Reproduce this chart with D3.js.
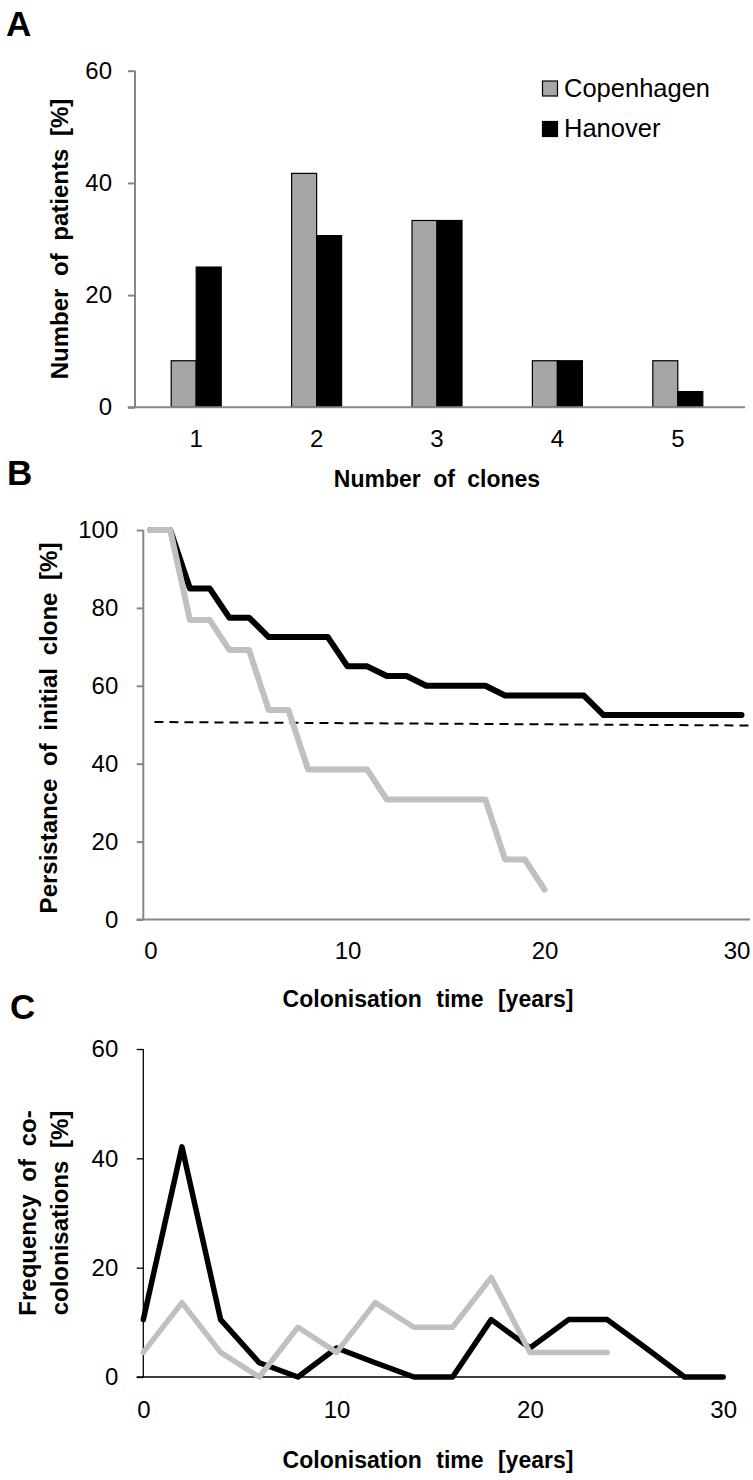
<!DOCTYPE html>
<html><head><meta charset="utf-8">
<script src="https://cdn.jsdelivr.net/npm/d3@7"></script>
<style>
body{margin:0;background:#fff}
svg text{font-family:"Liberation Sans",Arial,sans-serif;fill:#000}
</style>
</head><body>
<svg id="chart" width="753" height="1480"></svg>
<script>
// ---------- data ----------
const cloneCategories = ["1","2","3","4","5"];
const seriesNames = ["Copenhagen","Hanover"];
const copenhagenClones = [8.3, 41.7, 33.3, 8.3, 8.3];
const hanoverClones = [25.0, 30.6, 33.3, 8.3, 2.8];
const ticksA = [0, 20, 40, 60];

const hanoverYears = [0,1,2,3,4,5,6,7,8,9,10,11,12,13,14,15,16,17,18,19,20,21,22,23,24,25,26,27,28,29,30];
const hanoverPersist = [100,100,85,85,77.5,77.5,72.5,72.5,72.5,72.5,65,65,62.5,62.5,60,60,60,60,57.5,57.5,57.5,57.5,57.5,52.5,52.5,52.5,52.5,52.5,52.5,52.5,52.5];
const copenhagenYears = [0,1,2,3,4,5,6,7,8,9,10,11,12,13,14,15,16,17,18,19,20];
const copenhagenPersist = [100,100,76.9,76.9,69.2,69.2,53.8,53.8,38.5,38.5,38.5,38.5,30.8,30.8,30.8,30.8,30.8,30.8,15.4,15.4,7.7];
const referenceYears = [0.2, 30.6];
const referenceValues = [50.7, 49.8];
const ticksBy = [0, 20, 40, 60, 80, 100];
const ticksBx = [0, 10, 20, 30];

const hanoverCoYears = [0,2,4,6,8,10,12,14,16,18,20,22,24,26,28,30];
const hanoverCo = [10.5,42.1,10.5,2.6,0,5.3,2.6,0,0,10.5,5.3,10.5,10.5,5.3,0,0];
const copenhagenCoYears = [0,2,4,6,8,10,12,14,16,18,20,22,24];
const copenhagenCo = [4.5,13.6,4.5,0,9.1,4.5,13.6,9.1,9.1,18.2,4.5,4.5,4.5];
const ticksCy = [0, 20, 40, 60];
const ticksCx = [0, 10, 20, 30];

// ---------- setup ----------
const svg = d3.select("#chart");
const FONT = "24px";
const GRAY_AXIS = "#868686";
const BAR_GRAY = "#a6a6a6";
const LINE_GRAY = "#c0c0c0";

function panelLabel(t, x, y){
  svg.append("text").attr("x",x).attr("y",y).attr("font-size","35px")
     .attr("font-weight","bold").text(t);
}
function styleAxis(g, color, width){
  g.select(".domain").remove();
  g.selectAll(".tick line").attr("stroke", color).attr("stroke-width", width);
  g.selectAll(".tick text").attr("font-size", FONT).attr("fill","#000")
    .attr("font-family",'"Liberation Sans",Arial,sans-serif');
}

// ================= Panel A =================
panelLabel("A", 6, 36);
const xA = d3.scaleBand().domain(cloneCategories).range([136, 738]);
const yA = d3.scaleLinear().domain([0, 60]).range([407.3, 70.7]);
const barW = 25;

const gAy = svg.append("g").attr("transform","translate(135,0)")
  .call(d3.axisLeft(yA).tickValues(ticksA).tickSize(7).tickPadding(16).tickFormat(d3.format("d")));
styleAxis(gAy, GRAY_AXIS, 2);

const rowsA = cloneCategories.map((c,i)=>({c, cop: copenhagenClones[i], han: hanoverClones[i]}));
svg.append("g").selectAll("rect.cop").data(rowsA).join("rect")
  .attr("x", d => xA(d.c) + xA.bandwidth()/2 - barW)
  .attr("y", d => yA(d.cop)).attr("width", barW)
  .attr("height", d => yA(0) - yA(d.cop))
  .attr("fill", BAR_GRAY).attr("stroke","#000").attr("stroke-width",1.2);
svg.append("g").selectAll("rect.han").data(rowsA).join("rect")
  .attr("x", d => xA(d.c) + xA.bandwidth()/2)
  .attr("y", d => yA(d.han)).attr("width", barW)
  .attr("height", d => yA(0) - yA(d.han))
  .attr("fill", "#000").attr("stroke","#000").attr("stroke-width",1.2);

// axis lines A
svg.append("line").attr("x1",135).attr("x2",135).attr("y1",yA(60)).attr("y2",yA(0))
  .attr("stroke",GRAY_AXIS).attr("stroke-width",2);
svg.append("line").attr("x1",127.7).attr("x2",745).attr("y1",yA(0)).attr("y2",yA(0))
  .attr("stroke",GRAY_AXIS).attr("stroke-width",2);

const gAx = svg.append("g").attr("transform",`translate(0,${yA(0)})`)
  .call(d3.axisBottom(xA).tickSize(0).tickPadding(23));
styleAxis(gAx, "none", 0);

// legend
const legendA = svg.append("g");
[BAR_GRAY, "#000"].forEach((col,i)=>{
  legendA.append("rect").attr("x",542.5).attr("y",81 + i*40.5).attr("width",15).attr("height",15)
    .attr("fill",col).attr("stroke","#000").attr("stroke-width",1.2);
  legendA.append("text").attr("x",564).attr("y",96.5 + i*40.3).attr("font-size","25.5px")
    .text(seriesNames[i]);
});

svg.append("text").attr("transform","translate(68.3,239) rotate(-90)")
  .attr("text-anchor","middle").attr("font-size","24px").attr("font-weight","bold")
  .attr("word-spacing","6px").text("Number of patients [%]");
svg.append("text").attr("x",437).attr("y",487).attr("text-anchor","middle")
  .attr("font-size","23px").attr("font-weight","bold").attr("word-spacing","6px")
  .text("Number of clones");

// ================= Panel B =================
panelLabel("B", 7, 485);
const xB = d3.scaleLinear().domain([0, 30]).range([150.5, 741.5]);
const yB = d3.scaleLinear().domain([0, 100]).range([919.5, 530]);

const gBy = svg.append("g").attr("transform","translate(143.3,0)")
  .call(d3.axisLeft(yB).tickValues(ticksBy).tickSize(6.6).tickPadding(18.4).tickFormat(d3.format("d")));
styleAxis(gBy, GRAY_AXIS, 2);
svg.append("line").attr("x1",143.3).attr("x2",143.3).attr("y1",yB(100)).attr("y2",yB(0))
  .attr("stroke",GRAY_AXIS).attr("stroke-width",2);
svg.append("line").attr("x1",136.7).attr("x2",750).attr("y1",yB(0)).attr("y2",yB(0))
  .attr("stroke",GRAY_AXIS).attr("stroke-width",2);
const gBx = svg.append("g").attr("transform",`translate(0,${yB(0)})`)
  .call(d3.axisBottom(xB).tickValues(ticksBx).tickSize(0).tickPadding(22.5).tickFormat(d3.format("d")));
styleAxis(gBx, "none", 0);
gBx.selectAll(".tick text").filter(d => d === 30).attr("dx", "-5px");

const lineB = d3.line().x(d=>xB(d[0])).y(d=>yB(d[1]));
svg.append("path").datum(referenceYears.map((x,i)=>[x, referenceValues[i]]))
  .attr("d", lineB).attr("fill","none").attr("stroke","#000").attr("stroke-width",2)
  .attr("stroke-dasharray","9,6");
svg.append("path").datum(hanoverYears.map((x,i)=>[x, hanoverPersist[i]]))
  .attr("d", lineB).attr("fill","none").attr("stroke","#000").attr("stroke-width",6)
  .attr("stroke-linejoin","round").attr("stroke-linecap","round");
svg.append("path").datum(copenhagenYears.map((x,i)=>[x, copenhagenPersist[i]]))
  .attr("d", lineB).attr("fill","none").attr("stroke",LINE_GRAY).attr("stroke-width",6)
  .attr("stroke-linejoin","round").attr("stroke-linecap","round");

svg.append("text").attr("transform","translate(56.7,728) rotate(-90)")
  .attr("text-anchor","middle").attr("font-size","24px").attr("font-weight","bold")
  .attr("word-spacing","6px").text("Persistance of initial clone [%]");
svg.append("text").attr("x",428).attr("y",1007).attr("text-anchor","middle")
  .attr("font-size","23px").attr("font-weight","bold").attr("word-spacing","8px")
  .text("Colonisation time [years]");

// ================= Panel C =================
panelLabel("C", 10, 1019);
const xC = d3.scaleLinear().domain([0, 30]).range([143.3, 723.2]);
const yC = d3.scaleLinear().domain([0, 60]).range([1377, 1049]);

const gCy = svg.append("g").attr("transform","translate(143.3,0)")
  .call(d3.axisLeft(yC).tickValues(ticksCy).tickSize(6.6).tickPadding(18.4).tickFormat(d3.format("d")));
styleAxis(gCy, "#000", 1.3);
svg.append("line").attr("x1",143.3).attr("x2",143.3).attr("y1",yC(60)).attr("y2",yC(0))
  .attr("stroke","#000").attr("stroke-width",1.3);
svg.append("line").attr("x1",136.7).attr("x2",xC(30)).attr("y1",yC(0)).attr("y2",yC(0))
  .attr("stroke","#000").attr("stroke-width",1.3);
const gCx = svg.append("g").attr("transform",`translate(0,${yC(0)})`)
  .call(d3.axisBottom(xC).tickValues(ticksCx).tickSize(0).tickPadding(24).tickFormat(d3.format("d")));
styleAxis(gCx, "none", 0);

const lineC = d3.line().x(d=>xC(d[0])).y(d=>yC(d[1]));
svg.append("path").datum(hanoverCoYears.map((x,i)=>[x, hanoverCo[i]]))
  .attr("d", lineC).attr("fill","none").attr("stroke","#000").attr("stroke-width",5.5)
  .attr("stroke-linejoin","round").attr("stroke-linecap","round");
svg.append("path").datum(copenhagenCoYears.map((x,i)=>[x, copenhagenCo[i]]))
  .attr("d", lineC).attr("fill","none").attr("stroke",LINE_GRAY).attr("stroke-width",5.5)
  .attr("stroke-linejoin","round").attr("stroke-linecap","round");

const titleC = svg.append("text").attr("transform","translate(0,1213) rotate(-90)")
  .attr("text-anchor","middle").attr("font-size","24px").attr("font-weight","bold")
  .attr("word-spacing","6px");
titleC.append("tspan").attr("x",0).attr("y",36).text("Frequency of co-");
titleC.append("tspan").attr("x",0).attr("y",68.3).text("colonisations [%]");

svg.append("text").attr("x",428).attr("y",1468).attr("text-anchor","middle")
  .attr("font-size","23px").attr("font-weight","bold").attr("word-spacing","8px")
  .text("Colonisation time [years]");
</script>
</body></html>
